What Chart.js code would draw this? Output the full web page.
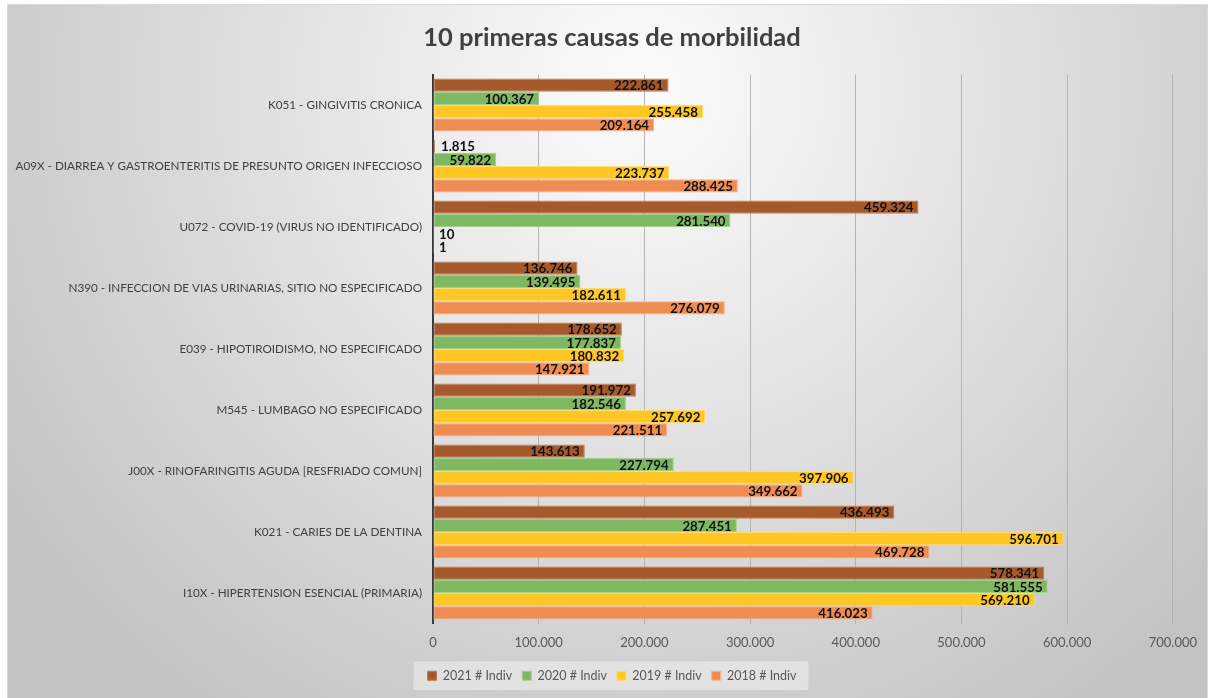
<!DOCTYPE html>
<html>
<head>
<meta charset="utf-8">
<script src="https://cdn.jsdelivr.net/npm/chart.js@4/dist/chart.umd.min.js"></script>
<style>
html,body{margin:0;padding:0;background:#fff;}
#wrap{width:1209px;height:698px;position:relative;}
</style>
</head>
<body>
<div id="wrap"><canvas id="c" width="1209" height="698"></canvas></div>
<script>
const categories = [
  "K051 - GINGIVITIS CRONICA",
  "A09X - DIARREA Y GASTROENTERITIS DE PRESUNTO ORIGEN INFECCIOSO",
  "U072 - COVID-19 (VIRUS NO IDENTIFICADO)",
  "N390 - INFECCION DE VIAS URINARIAS, SITIO NO ESPECIFICADO",
  "E039 - HIPOTIROIDISMO, NO ESPECIFICADO",
  "M545 - LUMBAGO NO ESPECIFICADO",
  "J00X - RINOFARINGITIS AGUDA [RESFRIADO COMUN]",
  "K021 - CARIES DE LA DENTINA",
  "I10X - HIPERTENSION ESENCIAL (PRIMARIA)"
];
const seriesNames = ["2021 # Indiv", "2020 # Indiv", "2019 # Indiv", "2018 # Indiv"];
const values2021 = [222861, 1815, 459324, 136746, 178652, 191972, 143613, 436493, 578341];
const values2020 = [100367, 59822, 281540, 139495, 177837, 182546, 227794, 287451, 581555];
const values2019 = [255458, 223737, 10, 182611, 180832, 257692, 397906, 596701, 569210];
const values2018 = [209164, 288425, 1, 276079, 147921, 221511, 349662, 469728, 416023];
const xTicks = [0, 100000, 200000, 300000, 400000, 500000, 600000, 700000];

const colors = ["#A65A2C", "#7FB862", "#FFC624", "#EF8C51"];
const borders = ["#C07A4E", "#A3CF8C", "#FFDB73", "#F6B08A"];

function fmt(v){
  return String(Math.round(v)).replace(/\B(?=(\d{3})+(?!\d))/g, ".");
}

const FONT = "Lato, 'Open Sans', 'Liberation Sans', sans-serif";

const bgPlugin = {
  id: 'bg',
  afterLayout(chart){
    const shift = 19.5;
    const tb = chart.titleBlock;
    if (tb){ tb.left += shift; tb.right += shift; }
    const lg = chart.legend;
    if (lg){ lg.left += shift; lg.right += shift; }
  },
  beforeDraw(chart){
    const ctx = chart.ctx;
    const W = chart.width, H = chart.height;
    ctx.save();
    ctx.fillStyle = '#ffffff';
    ctx.fillRect(0,0,W,H);
    const g = ctx.createRadialGradient(640, 90, 0, 640, 90, 760);
    g.addColorStop(0, '#fcfcfc');
    g.addColorStop(1, '#c3c3c3');
    ctx.fillStyle = g;
    ctx.fillRect(8, 5, W - 10, H - 5);
    ctx.strokeStyle = '#d9d9d9';
    ctx.lineWidth = 1;
    ctx.strokeRect(7.5, 4.5, W - 9, H - 4);
    const lg = chart.legend;
    if (lg && lg.legendHitBoxes && lg.legendHitBoxes.length){
      let l = Infinity, r = -Infinity, t = Infinity, b = -Infinity;
      lg.legendHitBoxes.forEach(h => {
        l = Math.min(l, h.left); r = Math.max(r, h.left + h.width);
        t = Math.min(t, h.top); b = Math.max(b, h.top + h.height);
      });
      ctx.fillStyle = 'rgba(240,240,240,0.55)';
      ctx.fillRect(l - 14, t - 8, (r - l) + 26, (b - t) + 16);
    }
    ctx.restore();
  }
};

const labelPlugin = {
  id: 'vlabels',
  afterDatasetsDraw(chart){
    const ctx = chart.ctx;
    ctx.save();
    ctx.font = "bold 13.3px " + FONT;
    ctx.fillStyle = '#111111';
    ctx.textBaseline = 'middle';
    chart.data.datasets.forEach((ds, di) => {
      const meta = chart.getDatasetMeta(di);
      if (meta.hidden) return;
      meta.data.forEach((bar, i) => {
        const v = ds.data[i];
        const txt = fmt(v);
        const tw = ctx.measureText(txt).width;
        const barW = bar.x - bar.base;
        if (barW > tw + 10){
          ctx.textAlign = 'right';
          ctx.fillText(txt, bar.x - 5, bar.y + 1);
        } else {
          ctx.textAlign = 'left';
          ctx.fillText(txt, bar.x + 6, bar.y + 1);
        }
      });
    });
    ctx.restore();
  }
};

const allValues = [values2021, values2020, values2019, values2018];

new Chart(document.getElementById('c'), {
  type: 'bar',
  data: {
    labels: categories,
    datasets: seriesNames.map((n, i) => ({
      label: n,
      data: allValues[i],
      backgroundColor: colors[i],
      borderColor: borders[i],
      borderWidth: 1,
      borderSkipped: false,
      categoryPercentage: 0.87,
      barPercentage: 1.0
    }))
  },
  options: {
    indexAxis: 'y',
    responsive: false,
    animation: false,
    devicePixelRatio: 1,
    layout: { padding: { left: 8, right: 32, top: 6, bottom: 6 } },
    plugins: {
      title: {
        display: true,
        text: '10 primeras causas de morbilidad',
        color: '#404040',
        font: { family: FONT, size: 25.5, weight: 'bold' },
        padding: { top: 16, bottom: 22 }
      },
      legend: {
        position: 'bottom',
        labels: {
          color: '#595959',
          font: { family: FONT, size: 12.5 },
          boxWidth: 9,
          boxHeight: 9,
          padding: 10
        }
      },
      tooltip: { enabled: false }
    },
    scales: {
      x: {
        min: 0,
        max: 700000,
        afterBuildTicks(scale){ scale.ticks = xTicks.map(v => ({ value: v })); },
        afterFit(scale){ scale.height = 36; },
        ticks: {
          color: '#595959',
          font: { family: FONT, size: 13 },
          padding: 12,
          callback: (v) => fmt(v)
        },
        grid: { color: '#b4b4b4', lineWidth: 1, drawTicks: false },
        border: { display: false }
      },
      y: {
        afterFit(scale){ scale.width = 425; },
        ticks: {
          color: '#404040',
          font: { family: FONT, size: 11.7 },
          padding: 11
        },
        grid: { display: false, drawTicks: false },
        border: { display: true, color: '#3a3a3a', width: 2 }
      }
    }
  },
  plugins: [bgPlugin, labelPlugin]
});
</script>
</body>
</html>
